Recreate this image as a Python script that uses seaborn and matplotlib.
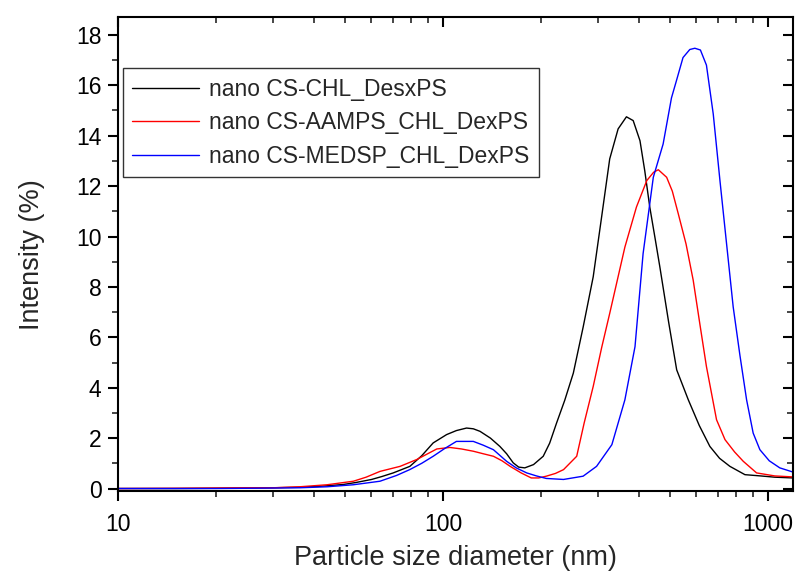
import numpy as np
import pandas as pd
import seaborn as sns
import matplotlib
matplotlib.use("Agg")
import matplotlib.pyplot as plt
from matplotlib.ticker import LogLocator, MultipleLocator, NullFormatter, FixedLocator, FixedFormatter

series_names = ["nano CS-CHL_DesxPS", "nano CS-AAMPS_CHL_DexPS", "nano CS-MEDSP_CHL_DexPS"]
colors = ["black", "red", "blue"]

d_black = [10, 15, 20, 25, 30, 36.3, 42, 49.3, 54, 60.3, 65, 70.3, 79.1, 86, 93.3, 102.6, 110, 118.2, 124, 130,
           140, 149.7, 157, 164.5, 171, 178.6, 190, 203.5, 213, 223.7, 237, 251.9, 270, 290, 308, 326, 346, 367,
           385, 404, 418, 433, 450, 465, 495, 524, 569, 615, 663, 710, 764, 850, 950, 1050, 1197]
i_black = [0.0, 0.0, 0.01, 0.02, 0.03, 0.05, 0.09, 0.16, 0.24, 0.36, 0.48, 0.62, 0.88, 1.3, 1.81, 2.14, 2.3, 2.4, 2.37, 2.27,
           2.0, 1.67, 1.38, 1.02, 0.85, 0.82, 0.95, 1.28, 1.8, 2.6, 3.5, 4.58, 6.4, 8.4, 10.8, 13.08, 14.27, 14.75,
           14.6, 13.8, 12.6, 11.17, 9.9, 8.8, 6.6, 4.71, 3.52, 2.5, 1.67, 1.2, 0.88, 0.55, 0.5, 0.45, 0.42]

d_red = [10, 15, 20, 25, 30, 36.3, 44, 53, 58, 64, 73.8, 83, 95.7, 105, 114, 124, 133, 143, 152, 161, 174, 187,
         197, 208, 222, 235, 258, 272, 290, 308, 326, 363, 394, 424, 445, 460, 488, 508, 530, 560, 589, 618, 647,
         695, 738, 790, 840, 923, 1050, 1197]
i_red = [0.0, 0.01, 0.02, 0.03, 0.03, 0.07, 0.15, 0.29, 0.45, 0.68, 0.88, 1.15, 1.57, 1.63, 1.57, 1.48, 1.38, 1.28, 1.1, 0.88, 0.62, 0.42,
         0.42, 0.49, 0.6, 0.75, 1.28, 2.6, 4.05, 5.6, 6.95, 9.58, 11.17, 12.22, 12.55, 12.65, 12.35, 11.8, 10.9, 9.7, 8.27, 6.5, 4.84,
         2.73, 1.94, 1.45, 1.08, 0.62, 0.5, 0.46]

d_blue = [10, 15, 20, 25, 30, 36.3, 44, 53, 64, 72, 79, 86, 93.3, 101, 110, 124, 133, 143, 157, 168, 181, 194,
          208, 235, 270, 297, 331, 363, 390, 413, 444, 476, 505, 523, 548, 575, 596, 620, 647, 679, 712, 745,
          782, 820, 860, 901, 945, 1010, 1088, 1197]
i_blue = [0.0, 0.0, 0.0, 0.01, 0.02, 0.03, 0.07, 0.15, 0.29, 0.52, 0.75, 1.0, 1.28, 1.58, 1.87, 1.87, 1.72, 1.54, 1.08, 0.82, 0.62, 0.5,
          0.4, 0.36, 0.49, 0.88, 1.74, 3.52, 5.63, 9.32, 12.35, 13.67, 15.5, 16.18, 17.1, 17.42, 17.47, 17.4, 16.8, 14.86, 12.22, 9.8,
          7.21, 5.3, 3.52, 2.2, 1.54, 1.1, 0.82, 0.65]

frames = []
for name, d, i in zip(series_names, [d_black, d_red, d_blue], [i_black, i_red, i_blue]):
    frames.append(pd.DataFrame({"d": d, "I": i, "sample": name}))
df = pd.concat(frames, ignore_index=True)

sns.set_style("white")
plt.rcParams['font.family'] = ['Liberation Sans', 'DejaVu Sans']

fig = plt.figure(figsize=(7.95, 5.75), dpi=100)
ax = fig.add_axes([0.1485, 0.146, 0.849, 0.824])

sns.lineplot(data=df, x="d", y="I", hue="sample", palette=dict(zip(series_names, colors)),
             hue_order=series_names, linewidth=1.0, ax=ax, sort=True, estimator=None)

ax.set_xscale("log")
ax.set_xlim(10, 1195)
ax.set_ylim(-0.1, 18.7)

ax.xaxis.set_major_locator(FixedLocator([10, 100, 1000]))
ax.xaxis.set_major_formatter(FixedFormatter(["10", "100", "1000"]))
ax.xaxis.set_minor_locator(LogLocator(base=10, subs=np.arange(2, 10)))
ax.xaxis.set_minor_formatter(NullFormatter())
ax.yaxis.set_major_locator(MultipleLocator(2))
ax.yaxis.set_minor_locator(MultipleLocator(1))

for s in ax.spines.values():
    s.set_color("black")
    s.set_linewidth(1.5)

ax.tick_params(axis="both", which="major", direction="out", length=7, width=1.5, labelsize=16.5,
               left=True, bottom=True, colors="black")
ax.tick_params(axis="x", which="major", pad=9)
ax.tick_params(axis="y", which="major", pad=5)
ax.tick_params(axis="both", which="minor", direction="out", length=4, width=1.2, left=True, bottom=True)
ax.tick_params(axis="both", which="both", right=True, top=True)
for t in ax.yaxis.get_major_ticks() + ax.yaxis.get_minor_ticks():
    t.tick2line.set_marker(matplotlib.lines.TICKLEFT)
for t in ax.xaxis.get_major_ticks() + ax.xaxis.get_minor_ticks():
    t.tick2line.set_marker(matplotlib.lines.TICKDOWN)

ax.set_xlabel("Particle size diameter (nm)", fontsize=19.5, labelpad=6)
ax.set_ylabel("Intensity (%)", fontsize=19.5, labelpad=22)

leg = ax.legend(loc="upper left", bbox_to_anchor=(0.007, 0.892), borderaxespad=0,
                fontsize=16.5, frameon=True, fancybox=False, handlelength=2.9,
                borderpad=0.42, labelspacing=0.45, handletextpad=0.45)
leg.get_frame().set_edgecolor("#333333")
leg.get_frame().set_linewidth(1.0)
leg.get_frame().set_alpha(1)

fig.savefig("out.png", dpi=100)
